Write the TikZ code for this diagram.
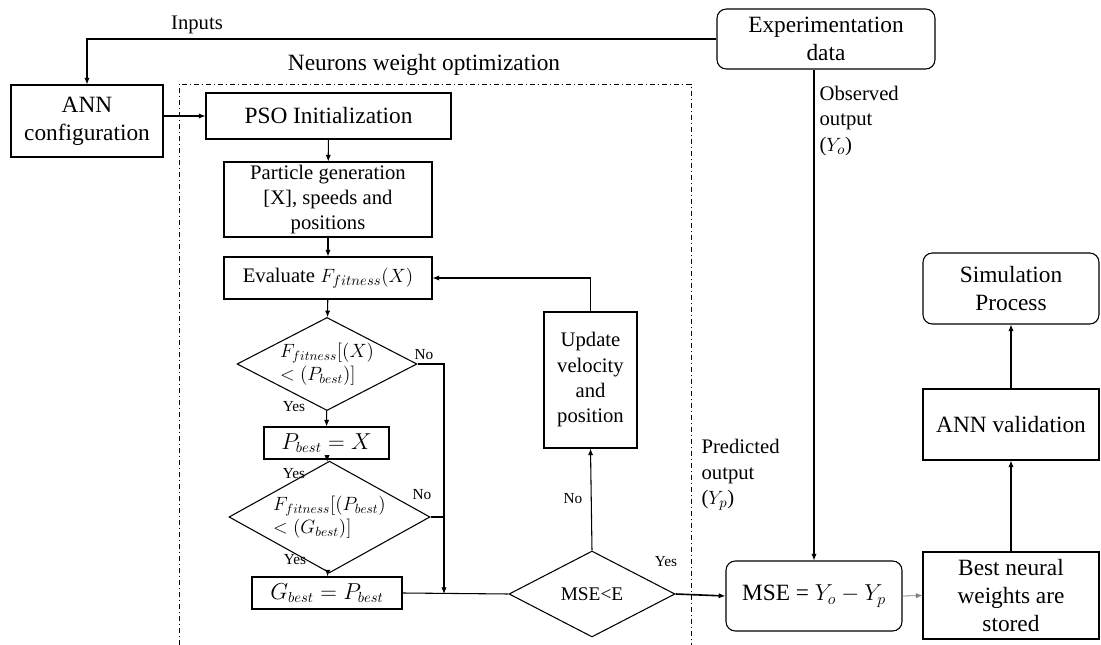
\documentclass[tikz,border=0pt]{standalone}
\usepackage{fontspec}
\setmainfont{Liberation Serif}
\usepackage{amsmath}
\usetikzlibrary{shapes.geometric,arrows.meta}

\begin{document}
\begin{tikzpicture}[x=0.75pt,y=0.75pt,yscale=-1,
  box/.style={draw,line width=0.8pt,inner sep=0pt,align=center},
  rbox/.style={box,rounded corners=7pt},
  dec/.style={draw,line width=0.8pt,diamond,inner sep=-8pt,align=left},
  arr/.style={-{Latex[length=5pt,width=4pt]},line width=0.8pt},
  big/.style={font=\fontsize{17.5}{21}\selectfont},
  mid/.style={font=\fontsize{15.5}{19}\selectfont},
  yn/.style={font=\fontsize{11.5}{14}\selectfont,inner sep=0pt}]
\useasboundingbox (0,0) rectangle (1101,645);

% Neurons weight optimization frame
\draw [line width=0.6pt,dash pattern=on 4pt off 2pt on 1pt off 2pt] (179,645) -- (179,84) -- (691,84) -- (691,645);
\node [big] (frmlbl) at (424,65) {Neurons weight optimization};

% Blocks
\node [box,big,minimum width=114pt,minimum height=54pt] (ann) at (87,121) {ANN\\configuration};
\node [box,big,minimum width=183.75pt,minimum height=34.5pt] (pso) at (328.5,116) {PSO Initialization};
\node [box,mid,minimum width=156pt,minimum height=56.25pt] (part) at (328,199.5) {Particle generation\\{[X]}, speeds and\\positions};
\node [box,mid,minimum width=156pt,minimum height=31.5pt] (eval) at (328,278) {Evaluate $F_{fitness}(X)$};
\node [dec,font=\fontsize{14}{17}\selectfont,minimum width=135pt,minimum height=69.75pt] (d1) at (327,364) {$F_{fitness}[(X)$\\$<(P_{best})]$};
\node [box,font=\fontsize{16}{19}\selectfont,minimum width=93.75pt,minimum height=24pt] (pb) at (326.5,443) {$P_{best}=X$};
\node [dec,font=\fontsize{14}{17}\selectfont,minimum width=150.75pt,minimum height=61.5pt] (d2) at (329.5,517) {$F_{fitness}[(P_{best})$\\$<(G_{best})]$};
\node [box,font=\fontsize{16}{19}\selectfont,minimum width=112.5pt,minimum height=24pt] (gb) at (327,593) {$G_{best}=P_{best}$};
\node [dec,align=center,font=\fontsize{14.5}{17}\selectfont,minimum width=124.5pt,minimum height=64.5pt] (d3) at (592,594) {MSE<E};
\node [box,mid,minimum width=69.75pt,minimum height=102pt] (upd) at (590.5,380) {Update\\velocity\\and\\position};
\node [rbox,big,minimum width=163.5pt,minimum height=45pt] (exp) at (826,39) {Experimentation\\data};
\node [rbox,big,minimum width=132pt,minimum height=52.5pt] (mse) at (814,596) {MSE = $Y_o-Y_p$};
\node [box,big,minimum width=132pt,minimum height=65.25pt] (best) at (1011,595.5) {Best neural\\weights are\\stored};
\node [box,big,minimum width=132pt,minimum height=53.25pt] (val) at (1011,424.5) {ANN validation};
\node [rbox,big,minimum width=132pt,minimum height=53.25pt] (sim) at (1011,288.5) {Simulation\\Process};

% Text Nodes
\node [mid] (inlbl) at (197,25) {Inputs};
\node [mid,anchor=west,align=left,inner sep=1pt] (obslbl) at (818,121) {Observed\\output\\($Y_o$)};
\node [mid,anchor=west,align=left,inner sep=1pt] (predlbl) at (700,475) {Predicted\\output\\($Y_p$)};
\node [yn] (no1) at (424,355) {No};
\node [yn] (yes1) at (294,407) {Yes};
\node [yn] (yes2) at (294,474) {Yes};
\node [yn] (no2) at (422,495) {No};
\node [yn] (yes3) at (295,560) {Yes};
\node [yn] (no3) at (573,499) {No};
\node [yn] (yes4) at (666,562) {Yes};

% Connectors
\coordinate (join) at (444,594);
\draw [arr] (exp.west) -| (ann.north);
\draw [arr] (ann.east |- pso.west) -- (pso.west);
\draw [arr] (pso) -- (part);
\draw [arr] (part) -- (eval);
\draw [arr] (eval) -- (d1);
\draw [arr] (d1) -- (pb);
\draw [arr] (pb) -- (d2);
\draw [arr] (d2) -- (gb);
\draw [arr] (d1.east) -| (join);
\draw [line width=0.8pt] (d2.east) -- (d2.east -| join);
\draw [line width=0.8pt] (gb.east) -- (d3.west);
\draw [arr] (d3.north) -- (upd.south);
\draw [arr] (upd.north) |- (eval.east);
\draw [arr,line width=1.2pt] (d3.east) -- (mse.west);
\draw [arr] (exp.south -| mse.north) -- (mse.north);
\draw [arr,gray,line width=0.6pt] (mse.east) -- (best.west);
\draw [arr] (best) -- (val);
\draw [arr] (val) -- (sim);
\end{tikzpicture}
\end{document}
